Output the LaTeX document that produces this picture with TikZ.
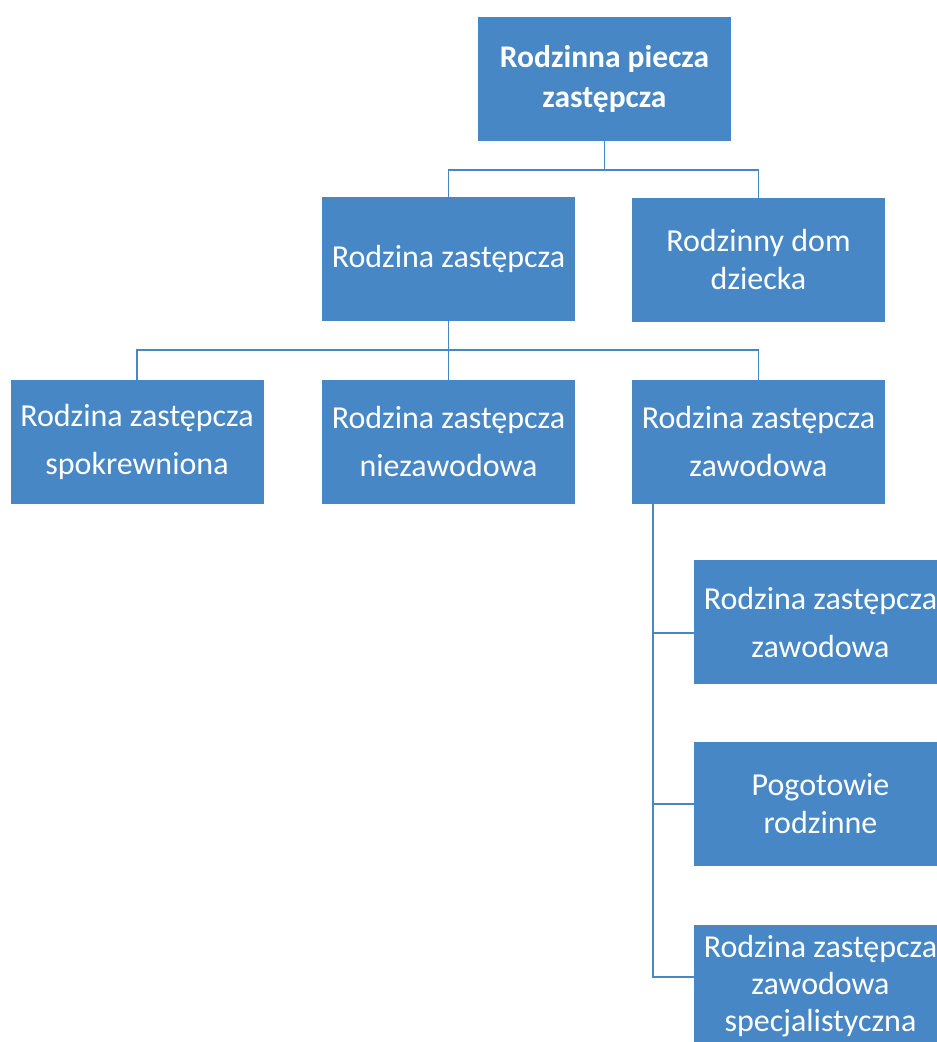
\documentclass[tikz,border=0pt]{standalone}
\usepackage{fontspec}
\setmainfont{Carlito}
\definecolor{boxblue}{RGB}{72,135,197}
\tikzset{
  orgbox/.style={draw=none, fill=boxblue, text=white, rectangle, align=center,
    minimum width=253pt, minimum height=124pt, inner sep=0pt,
    font=\fontsize{32}{38}\selectfont},
  widebox/.style={orgbox, font=\fontsize{32}{48}\selectfont},
  link/.style={draw=boxblue, line width=1.6pt}
}
\begin{document}
\begin{tikzpicture}[x=1pt, y=-1pt]
  \useasboundingbox (0,0) rectangle (937,1042);
  \clip (0,0) rectangle (937,1042);

  \node[orgbox, font=\fontsize{31.5}{40}\bfseries\selectfont] (top) at (604.5, 79) {Rodzinna piecza\\zastępcza};

  \node[orgbox] (rz)  at (448.5, 259) {Rodzina zastępcza};
  \node[orgbox] (rdd) at (758.5, 260) {Rodzinny dom\\dziecka};

  \node[widebox] (spok)  at (137, 442)   {Rodzina zastępcza\\spokrewniona};
  \node[widebox] (niez)  at (448.5, 442) {Rodzina zastępcza\\niezawodowa};
  \node[widebox] (zaw)   at (758.5, 442) {Rodzina zastępcza\\zawodowa};

  \node[widebox] (zaw2) at (820.5, 622)  {Rodzina zastępcza\\zawodowa};
  \node[orgbox]  (pog)  at (820.5, 804)  {Pogotowie\\rodzinne};
  \node[orgbox, minimum height=122pt, font=\fontsize{32}{37}\selectfont] (spec) at (820.5, 986) {Rodzina zastępcza\\zawodowa\\specjalistyczna};

  \draw[link] (top.south) -- ++(0,29) -| (rz.north);
  \draw[link] (top.south) -- ++(0,29) -| (rdd.north);

  \draw[link] (rz.south) -- ++(0,29) -| (spok.north);
  \draw[link] (rz.south) -- (niez.north);
  \draw[link] (rz.south) -- ++(0,29) -| (zaw.north);

  \draw[link] ([xshift=21pt]zaw.south west) |- ([yshift=-11pt]zaw2.west);
  \draw[link] ([xshift=21pt]zaw.south west) |- (pog.west);
  \draw[link] ([xshift=21pt]zaw.south west) |- ([yshift=9pt]spec.west);
\end{tikzpicture}
\end{document}
